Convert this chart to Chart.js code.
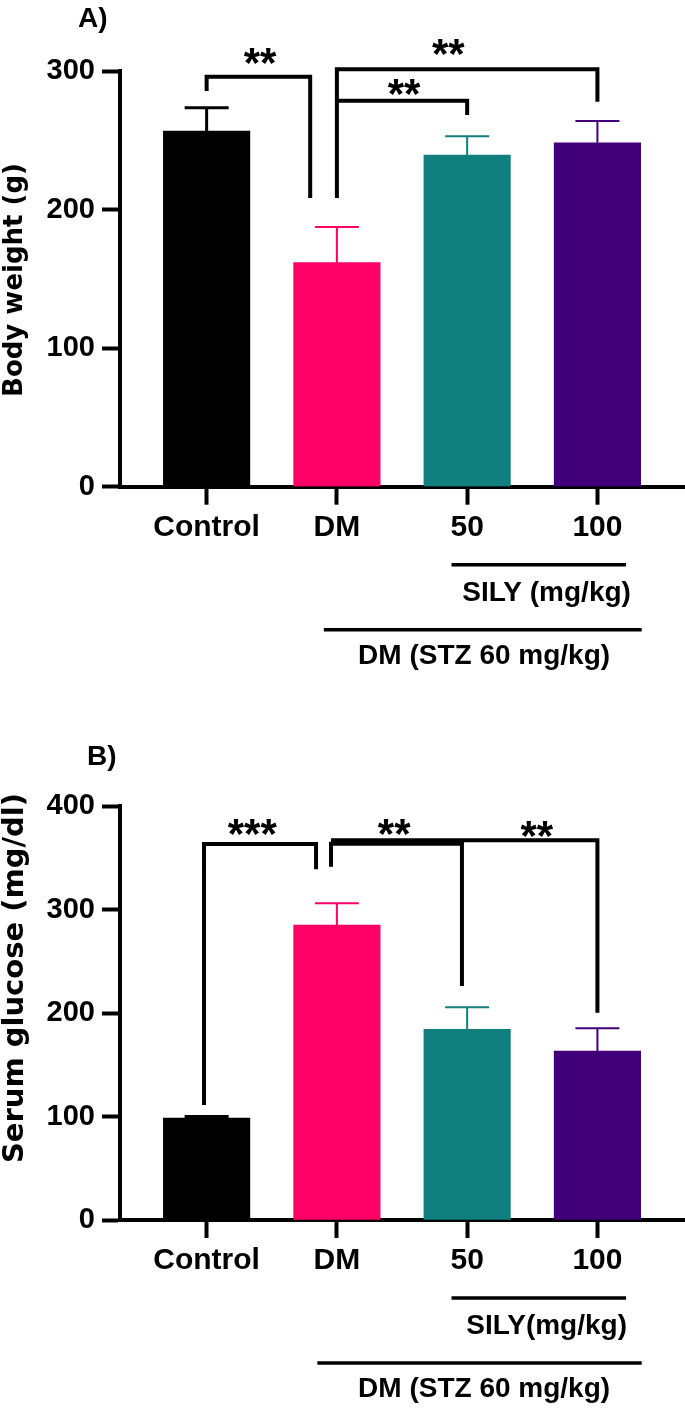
<!DOCTYPE html>
<html>
<head>
<meta charset="utf-8">
<script src="https://cdn.jsdelivr.net/npm/chart.js@4.4.1/dist/chart.umd.min.js"></script>
<style>
  html, body { margin: 0; padding: 0; background: #fff; overflow: hidden; }
  .panel { position: absolute; left: 0; width: 687px; }
  #wrapA { top: 0; height: 690px; }
  #wrapB { top: 690px; height: 718px; }
</style>
</head>
<body>
<div class="panel" id="wrapA"><canvas id="chartA"></canvas></div>
<div class="panel" id="wrapB"><canvas id="chartB"></canvas></div>
<script>
const groups = ['Control', 'DM', '50', '100'];
const barColors = ['#000000', '#ff0066', '#117f7e', '#41007a'];

// A) body weight (g), mean and SEM
const weightMean = [256.7, 161.7, 239.4, 248.2];
const weightSem = [16.8, 25.7, 13.6, 15.7];
const weightTicks = [0, 100, 200, 300];

// B) serum glucose (mg/dl), mean and SEM
const glucoseMean = [98.5, 285, 184.2, 163.3];
const glucoseSem = [1.5, 21, 21.3, 21.9];
const glucoseTicks = [0, 100, 200, 300, 400];

// significance brackets: x in group index units, y in axis units
const weightSig = [
  { x1: 0, x2: 0.795, y: 295.9, y1: 285.6, y2: 208.3, text: '**', tx: 0.41, ty: 296 },
  { x1: 1, x2: 3, y: 301.2, y1: 208.3, y2: 277.8, text: '**', tx: 1.855, ty: 302 },
  { x1: 1, x2: 2, y: 278.5, y1: 278.5, y2: 268.2, text: '**', tx: 1.515, ty: 273.1 }
];
const glucoseSig = [
  { x1: -0.02, x2: 0.84, y: 363.3, y1: 111, y2: 339, text: '***', tx: 0.35, ty: 359.2 },
  { x1: 0.955, x2: 1.96, y: 363.5, y1: 341.4, y2: 226, text: '**', tx: 1.44, ty: 359.2 },
  { x1: 0.955, x2: 3, y: 367, y1: 367, y2: 200.3, text: '**', tx: 2.535, ty: 357.7 }
];

const FONT = '"Liberation Sans", Arial, sans-serif';
const TITLE_FONT = '"DejaVu Sans", Verdana, sans-serif';

Chart.defaults.font.family = FONT;
Chart.defaults.color = '#000';

function extrasPlugin(mean, sem, sig, cfg) {
  return {
    id: 'extras',
    afterDatasetsDraw(chart) {
      const { ctx, scales: { x, y } } = chart;
      ctx.save();
      // error bars, upper side only
      mean.forEach((m, i) => {
        const px = x.getPixelForValue(i);
        const top = y.getPixelForValue(m + sem[i]);
        ctx.strokeStyle = barColors[i];
        ctx.lineWidth = i === 0 ? 3 : 2;
        ctx.beginPath();
        ctx.moveTo(px, y.getPixelForValue(m));
        ctx.lineTo(px, top);
        ctx.moveTo(px - 22, top);
        ctx.lineTo(px + 22, top);
        ctx.stroke();
      });
      // brackets
      ctx.strokeStyle = '#000';
      ctx.lineWidth = 4;
      ctx.lineJoin = 'miter';
      ctx.fillStyle = '#000';
      ctx.font = 'bold 42px ' + FONT;
      ctx.textAlign = 'center';
      ctx.textBaseline = 'alphabetic';
      sig.forEach(b => {
        ctx.beginPath();
        ctx.moveTo(x.getPixelForValue(b.x1), y.getPixelForValue(b.y1));
        ctx.lineTo(x.getPixelForValue(b.x1), y.getPixelForValue(b.y));
        ctx.lineTo(x.getPixelForValue(b.x2), y.getPixelForValue(b.y));
        ctx.lineTo(x.getPixelForValue(b.x2), y.getPixelForValue(b.y2));
        ctx.stroke();
        ctx.fillText(b.text, x.getPixelForValue(b.tx), y.getPixelForValue(b.ty));
      });
      ctx.restore();
    },
    afterDraw(chart) {
      const { ctx, chartArea, scales: { x } } = chart;
      const base = chartArea.bottom;
      ctx.save();
      ctx.fillStyle = '#000';
      ctx.strokeStyle = '#000';
      ctx.lineWidth = 3.5;
      // group lines under the axis
      ctx.beginPath();
      ctx.moveTo(x.getPixelForValue(1.88), base + 78);
      ctx.lineTo(x.getPixelForValue(3.22), base + 78);
      ctx.moveTo(x.getPixelForValue(cfg.dmStart), base + 143);
      ctx.lineTo(x.getPixelForValue(3.34), base + 143);
      ctx.stroke();
      ctx.font = 'bold 28px ' + FONT;
      ctx.textAlign = 'center';
      ctx.textBaseline = 'alphabetic';
      ctx.fillText(cfg.silyLabel, x.getPixelForValue(2.61), base + 114);
      ctx.fillText('DM (STZ 60 mg/kg)', x.getPixelForValue(2.13), base + 177);
      // panel letter
      ctx.font = 'bold 28px ' + FONT;
      ctx.textAlign = 'left';
      ctx.fillText(cfg.letter, cfg.letterX, cfg.letterY);
      // y axis title
      ctx.translate(15, cfg.titleY);
      ctx.rotate(-Math.PI / 2);
      ctx.font = 'bold ' + cfg.titleSize + 'px ' + TITLE_FONT;
      ctx.textAlign = 'center';
      ctx.textBaseline = 'middle';
      ctx.fillText(cfg.title, 0, 0);
      ctx.restore();
    }
  };
}

function drawPanel(canvasId, mean, sem, ticks, sig, cfg) {
  const ctx = document.getElementById(canvasId).getContext('2d');
  return new Chart(ctx, {
    type: 'bar',
    data: {
      datasets: [{
        data: mean.map((v, i) => ({ x: i, y: v })),
        backgroundColor: barColors,
        borderWidth: 0,
        barThickness: 86.5
      }]
    },
    options: {
      responsive: true,
      maintainAspectRatio: false,
      animation: false,
      layout: { padding: { top: cfg.top, right: 1, left: 0, bottom: 0 } },
      plugins: { legend: { display: false }, tooltip: { enabled: false } },
      scales: {
        x: {
          type: 'linear',
          min: -0.665,
          max: 3.68,
          offset: false,
          afterBuildTicks: s => { s.ticks = groups.map((_, i) => ({ value: i })); },
          afterFit: s => { s.height = cfg.xHeight; },
          ticks: {
            callback: v => groups[v],
            font: { size: 30, weight: 'bold' },
            color: '#000',
            padding: 5,
            maxRotation: 0,
            autoSkip: false
          },
          grid: { offset: false, drawOnChartArea: false, drawTicks: true, tickLength: 18, tickWidth: 4, tickColor: '#000' },
          border: { display: true, width: 4, color: '#000' }
        },
        y: {
          min: 0,
          max: ticks[ticks.length - 1],
          afterBuildTicks: s => { s.ticks = ticks.map(v => ({ value: v })); },
          afterFit: s => { s.width = 120; },
          ticks: { font: { size: 29, weight: 'bold' }, color: '#000', padding: 7 },
          grid: { drawOnChartArea: false, drawTicks: true, tickLength: 18, tickWidth: 4, tickColor: '#000' },
          border: { display: true, width: 4, color: '#000' }
        }
      }
    },
    plugins: [extrasPlugin(mean, sem, sig, cfg)]
  });
}

drawPanel('chartA', weightMean, weightSem, weightTicks, weightSig, {
  top: 71, xHeight: 203.3, letter: 'A)', letterX: 78, letterY: 27,
  title: 'Body weight (g)', titleSize: 26, titleY: 280,
  silyLabel: 'SILY (mg/kg)', dmStart: 0.90
});
drawPanel('chartB', glucoseMean, glucoseSem, glucoseTicks, glucoseSig, {
  top: 116, xHeight: 188, letter: 'B)', letterX: 87, letterY: 75,
  title: 'Serum glucose (mg/dl)', titleSize: 29, titleY: 288,
  silyLabel: 'SILY(mg/kg)', dmStart: 0.85
});
</script>
</body>
</html>
